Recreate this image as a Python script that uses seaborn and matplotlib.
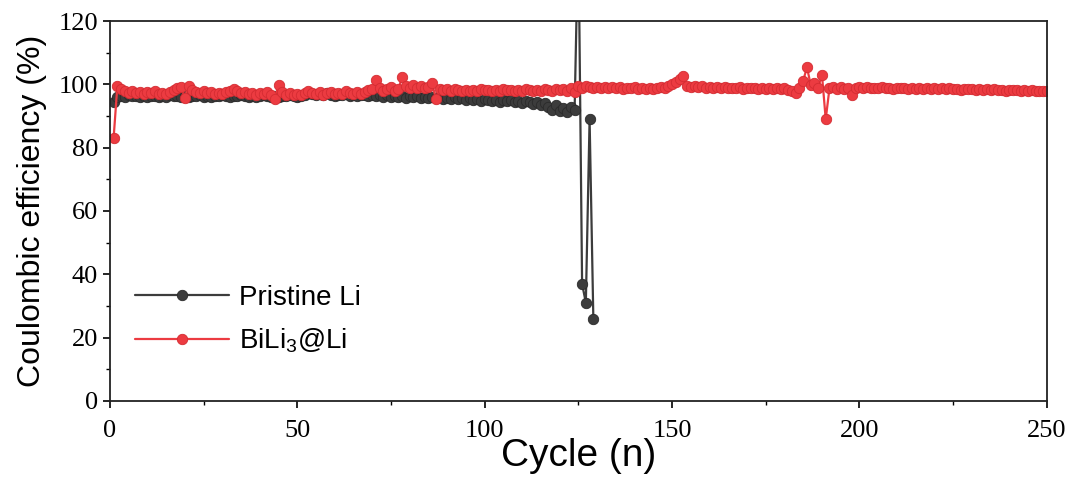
import pandas as pd
import matplotlib.pyplot as plt
import seaborn as sns
from matplotlib.ticker import MultipleLocator

# Coulombic efficiency (%) per cycle
bili3_ce = [
    83.0, 99.5, 98.6, 97.8, 97.4, 97.9, 97.2, 97.6, 97.0, 97.5,
    97.3, 97.8, 97.1, 97.4, 97.0, 97.6, 98.2, 98.8, 99.3, 95.8,
    99.6, 98.3, 97.6, 97.2, 97.8, 97.3, 97.5, 96.9, 97.4, 97.1,
    97.6, 97.9, 98.6, 97.8, 97.2, 97.5, 97.0, 97.4, 96.8, 97.3,
    97.0, 97.5, 96.6, 95.3, 99.7, 97.6, 96.8, 97.2, 96.5, 97.0,
    96.6, 97.4, 97.8, 97.3, 97.0, 97.6, 96.8, 97.2, 97.5, 96.9,
    97.4, 97.1, 97.8, 97.3, 96.9, 97.5, 97.0, 97.7, 98.2, 98.6,
    101.3, 98.8, 97.9, 98.5, 99.2, 98.0, 98.6, 102.4, 99.5, 98.7,
    99.8, 98.9, 99.6, 98.7, 99.1, 100.3, 95.5, 98.6, 98.2, 98.5,
    98.0, 98.4, 98.1, 97.8, 98.3, 98.0, 98.2, 97.9, 98.4, 98.1,
    98.3, 97.9, 98.2, 98.0, 98.4, 98.1, 98.3, 97.8, 98.2, 98.0,
    98.4, 98.1, 97.9, 98.3, 98.0, 98.4, 98.2, 97.8, 98.5, 98.1,
    98.4, 97.9, 98.8, 97.5, 99.4, 99.0, 99.6, 99.1, 98.8, 99.3,
    98.9, 99.2, 98.7, 99.1, 98.8, 99.2, 98.6, 99.0, 98.7, 99.1,
    98.5, 98.9, 98.4, 98.8, 98.6, 98.9, 99.3, 99.0, 99.6, 100.2,
    100.8, 101.6, 102.6, 99.6, 99.2, 99.5, 99.1, 99.4, 98.9, 99.3,
    98.8, 99.2, 98.9, 99.1, 98.7, 99.0, 98.8, 99.1, 98.6, 98.9,
    98.7, 99.0, 98.5, 98.8, 98.6, 98.9, 98.5, 98.8, 98.4, 98.7,
    98.3, 98.0, 97.2, 99.0, 101.2, 105.4, 99.8, 100.4, 98.9, 103.1,
    89.0, 98.7, 99.3, 98.6, 99.1, 98.5, 98.9, 96.8, 98.8, 99.2,
    98.9, 99.1, 98.7, 99.0, 98.8, 99.1, 98.7, 98.9, 98.6, 98.9,
    98.7, 98.9, 98.6, 98.8, 98.5, 98.8, 98.6, 98.8, 98.5, 98.7,
    98.4, 98.7, 98.5, 98.7, 98.4, 98.6, 98.3, 98.6, 98.4, 98.5,
    98.2, 98.5, 98.3, 98.4, 98.1, 98.4, 98.2, 98.3, 98.0, 98.3,
    98.1, 98.2, 97.9, 98.2, 98.0, 98.1, 97.8, 98.0, 97.9, 97.9,
]

pristine_ce = [
    94.5, 96.0, 96.3, 96.1, 96.5, 96.2, 96.4, 96.0, 96.3, 96.1,
    96.4, 96.2, 96.0, 96.3, 96.1, 96.5, 96.2, 96.4, 96.0, 96.3,
    96.1, 96.4, 96.2, 96.5, 96.1, 96.3, 96.0, 96.4, 96.2, 96.5,
    96.3, 96.1, 96.4, 96.2, 96.6, 96.3, 96.0, 96.4, 96.1, 96.3,
    96.5, 96.2, 96.0, 96.3, 96.1, 96.4, 96.2, 96.6, 96.3, 96.0,
    96.4, 96.8, 97.2, 96.9, 96.5, 97.0, 96.6, 97.3, 96.7, 96.4,
    96.8, 96.5, 96.9, 96.3, 96.7, 96.4, 96.8, 96.5, 96.2, 96.6,
    96.3, 96.7, 96.1, 96.5, 96.0, 96.4, 95.9, 96.3, 95.8, 96.2,
    95.9, 96.3, 95.7, 96.1, 95.8, 96.0, 95.6, 95.9, 95.4, 95.8,
    95.5, 95.9, 95.3, 95.7, 95.2, 95.6, 95.0, 95.4, 94.8, 95.3,
    95.0, 94.6, 95.2, 94.3, 95.0, 94.7, 95.1, 94.5, 94.9, 94.2,
    94.8, 94.4, 93.8, 94.5, 93.5, 94.2, 93.0, 91.8, 93.6, 91.5,
    92.5, 91.2, 92.8, 91.8, 150.0, 37.0, 31.0, 89.0, 26.0,
]

bili3 = pd.DataFrame({"cycle": range(1, len(bili3_ce) + 1), "ce": bili3_ce})
pristine = pd.DataFrame({"cycle": range(1, len(pristine_ce) + 1), "ce": pristine_ce})

sns.set_style("ticks")
plt.rcParams["font.family"] = ["Liberation Sans", "DejaVu Sans"]
plt.rcParams["mathtext.fontset"] = "custom"
plt.rcParams["mathtext.rm"] = "Liberation Sans"
plt.rcParams["text.color"] = "black"
plt.rcParams["axes.labelcolor"] = "black"
plt.rcParams["xtick.color"] = "black"
plt.rcParams["ytick.color"] = "black"

fig, ax = plt.subplots(figsize=(10.77, 4.79), dpi=100)
fig.subplots_adjust(left=0.102, right=0.972, bottom=0.163, top=0.956)

sns.lineplot(data=pristine, x="cycle", y="ce", ax=ax, color="#3c3c3c",
             marker="o", markersize=7.5, markeredgecolor="#2a2a2a",
             markeredgewidth=0.6, linewidth=1.6, label="Pristine Li")
sns.lineplot(data=bili3, x="cycle", y="ce", ax=ax, color="#ec3b41",
             marker="o", markersize=7.5, markeredgecolor="#d42c32",
             markeredgewidth=0.6, linewidth=1.6, label="BiLi$_3$@Li")

ax.set_xlim(0, 250)
ax.set_ylim(0, 120)
ax.xaxis.set_major_locator(MultipleLocator(50))
ax.xaxis.set_minor_locator(MultipleLocator(25))
ax.yaxis.set_major_locator(MultipleLocator(20))
ax.yaxis.set_minor_locator(MultipleLocator(10))
ax.tick_params(which="major", direction="out", length=5, width=1.2, labelsize=19)
ax.tick_params(which="minor", direction="out", length=3, width=1.0)
ax.tick_params(axis="x", pad=9)
for lbl in ax.get_xticklabels() + ax.get_yticklabels():
    lbl.set_fontfamily("Liberation Serif")
for sp in ax.spines.values():
    sp.set_linewidth(1.3)
    sp.set_color("#222222")

ax.set_xlabel("Cycle (n)", fontsize=28, labelpad=-3)
ax.set_ylabel("Coulombic efficiency (%)", fontsize=23, labelpad=8)

ax.legend(loc="lower left", bbox_to_anchor=(0.0, 0.055), frameon=False,
          fontsize=20, handlelength=3.4, labelspacing=0.55, handletextpad=0.35)

plt.savefig("out.png", dpi=100)
